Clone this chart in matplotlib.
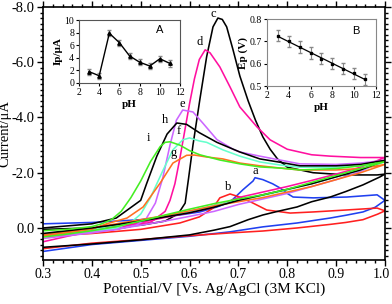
import numpy as np
import matplotlib
matplotlib.use("Agg")
import matplotlib.pyplot as plt
import matplotlib.transforms as mtransforms
from matplotlib.ticker import MultipleLocator, FormatStrFormatter

plt.rcParams['font.family'] = ['Liberation Serif', 'DejaVu Serif']
plt.rcParams['axes.unicode_minus'] = False

# cyclic voltammograms, potentials (V) and currents (uA), forward then reverse scan
a_fwd_E = [0.30, 0.40, 0.50, 0.58, 0.621, 0.656, 0.683, 0.709, 0.73, 0.734, 0.75, 0.77, 0.785, 0.80, 0.812, 0.853, 0.922, 0.984, 1.00]
a_fwd_I = [-0.15, -0.2, -0.3, -0.47, -0.58, -0.76, -0.94, -1.38, -1.7, -1.82, -1.75, -1.6, -1.45, -1.25, -1.12, -1.09, -1.12, -1.2, -1.0]
a_rev_E = [1.00, 0.98, 0.955, 0.92, 0.888, 0.85, 0.82, 0.75, 0.683, 0.6, 0.5, 0.4, 0.3]
a_rev_I = [-1.0, -0.75, -0.58, -0.46, -0.36, -0.26, -0.18, -0.04, 0.14, 0.3, 0.45, 0.6, 0.85]

b_fwd_E = [0.30, 0.40, 0.50, 0.58, 0.62, 0.648, 0.662, 0.683, 0.703, 0.73, 0.758, 0.806, 0.853, 0.92, 0.984, 1.00]
b_fwd_I = [0.3, 0.2, 0.05, -0.18, -0.4, -0.72, -1.09, -1.23, -1.12, -0.9, -0.65, -0.54, -0.58, -0.65, -0.72, -0.62]
b_rev_E = [1.00, 0.985, 0.955, 0.92, 0.888, 0.82, 0.75, 0.683, 0.6, 0.5, 0.4, 0.3]
b_rev_I = [-0.62, -0.5, -0.3, -0.2, -0.13, 0.0, 0.11, 0.18, 0.28, 0.42, 0.55, 0.75]

c_fwd_E = [0.30, 0.40, 0.50, 0.55, 0.57, 0.58, 0.591, 0.598, 0.607, 0.621, 0.635, 0.648, 0.658, 0.667, 0.676,
           0.689, 0.703, 0.72, 0.735, 0.75, 0.765, 0.78, 0.80, 0.853, 0.922, 0.984, 1.00]
c_fwd_I = [0.05, 0.0, -0.1, -0.25, -0.45, -0.6, -0.9, -1.8, -3.0, -4.64, -6.2, -7.28, -7.6, -7.55, -7.28,
           -6.45, -5.5, -4.6, -3.9, -3.3, -2.85, -2.5, -2.2, -2.0, -1.92, -1.92, -1.95]
c_rev_E = [1.00, 0.99, 0.955, 0.92, 0.888, 0.85, 0.82, 0.78, 0.75, 0.72, 0.683, 0.65, 0.6, 0.5, 0.4, 0.3]
c_rev_I = [-1.95, -1.85, -1.56, -1.32, -1.12, -0.95, -0.76, -0.6, -0.47, -0.3, -0.05, 0.08, 0.25, 0.43, 0.58, 0.7]

d_fwd_E = [0.30, 0.45, 0.52, 0.55, 0.56, 0.57, 0.58, 0.59, 0.60, 0.61, 0.62, 0.632, 0.642, 0.662, 0.683,
           0.703, 0.738, 0.765, 0.80, 0.85, 0.888, 0.95, 1.00]
d_fwd_I = [0.25, 0.0, -0.2, -0.6, -1.0, -1.6, -2.5, -3.5, -4.5, -5.4, -6.1, -6.45, -6.34, -5.83, -5.1,
           -4.38, -3.66, -3.19, -2.85, -2.65, -2.6, -2.55, -2.55]

e_fwd_E = [0.30, 0.45, 0.49, 0.51, 0.53, 0.545, 0.56, 0.573, 0.586, 0.607, 0.627, 0.656, 0.689, 0.703,
           0.744, 0.785, 0.826, 0.9, 0.95, 1.0]
e_fwd_I = [0.3, 0.05, -0.1, -0.3, -0.9, -1.8, -3.0, -3.9, -4.27, -4.2, -3.8, -3.2, -2.85, -2.75,
           -2.6, -2.46, -2.32, -2.3, -2.35, -2.45]

f_fwd_E = [0.30, 0.45, 0.48, 0.50, 0.52, 0.546, 0.566, 0.586, 0.60, 0.62, 0.635, 0.668, 0.703, 0.744,
           0.785, 0.826, 0.9, 0.95, 1.0]
f_fwd_I = [0.3, 0.0, -0.2, -0.5, -1.1, -2.1, -2.83, -3.19, -3.26, -3.15, -3.1, -2.83, -2.6, -2.39,
           -2.28, -2.2, -2.2, -2.25, -2.4]

g_fwd_E = [0.30, 0.40, 0.43, 0.472, 0.505, 0.54, 0.566, 0.594, 0.61, 0.635, 0.668, 0.703, 0.744, 0.785,
           0.826, 0.9, 0.95, 1.0]
g_fwd_I = [0.3, 0.05, -0.15, -0.36, -0.76, -1.63, -2.35, -2.63, -2.64, -2.57, -2.5, -2.35, -2.25, -2.17,
           -2.1, -2.1, -2.15, -2.3]

h_fwd_E = [0.30, 0.40, 0.45, 0.50, 0.512, 0.533, 0.554, 0.574, 0.594, 0.62, 0.656, 0.703, 0.744, 0.785,
           0.826, 0.9, 0.95, 1.0]
h_fwd_I = [0.0, -0.15, -0.36, -1.0, -1.6, -2.6, -3.4, -3.8, -3.75, -3.45, -3.1, -2.75, -2.5, -2.38,
           -2.25, -2.25, -2.3, -2.45]

i_fwd_E = [0.30, 0.35, 0.40, 0.42, 0.44, 0.46, 0.48, 0.50, 0.52, 0.54, 0.55, 0.56, 0.58, 0.60, 0.621,
           0.662, 0.703, 0.744, 0.785, 0.826, 0.9, 0.95, 1.0]
i_fwd_I = [0.1, 0.05, -0.05, -0.15, -0.3, -0.6, -1.1, -1.7, -2.4, -2.95, -3.1, -3.12, -3.0, -2.8, -2.65,
           -2.46, -2.32, -2.21, -2.17, -2.1, -2.15, -2.25, -2.4]

# reverse scans of d-i, read at the same potentials
rev_E = [1.0, 0.95, 0.9, 0.85, 0.8, 0.75, 0.7, 0.65, 0.6, 0.55, 0.5, 0.45, 0.4, 0.35, 0.3]
d_rev_I = [-2.55, -2.2, -1.95, -1.72, -1.5, -1.3, -1.1, -0.75, -0.55, -0.38, -0.2, -0.05, 0.12, 0.3, 0.5]
e_rev_I = [-2.45, -2.05, -1.75, -1.5, -1.25, -1.05, -0.85, -0.6, -0.42, -0.25, -0.1, 0.05, 0.18, 0.28, 0.38]
f_rev_I = [-2.4, -2.1, -1.85, -1.6, -1.38, -1.18, -1.0, -0.82, -0.6, -0.42, -0.25, -0.1, 0.05, 0.15, 0.28]
g_rev_I = [-2.3, -2.0, -1.75, -1.5, -1.3, -1.1, -0.95, -0.8, -0.62, -0.45, -0.3, -0.15, 0.0, 0.12, 0.25]
h_rev_I = [-2.45, -2.1, -1.85, -1.6, -1.4, -1.2, -1.0, -0.75, -0.55, -0.4, -0.25, -0.12, 0.0, 0.1, 0.2]
i_rev_I = [-2.4, -2.15, -1.9, -1.65, -1.4, -1.2, -1.05, -0.88, -0.68, -0.47, -0.25, -0.05, 0.1, 0.22, 0.33]

# inset A and B
pH = [3, 4, 5, 6, 7, 8, 9, 10, 11]
Ip = [1.8, 1.15, 7.9, 6.4, 4.3, 3.3, 2.7, 3.85, 3.1]
Ip_err = [0.5, 0.45, 0.5, 0.5, 0.5, 0.5, 0.45, 0.5, 0.55]
Ep = [0.725, 0.70, 0.675, 0.648, 0.623, 0.60, 0.577, 0.557, 0.53]
Ep_err = [0.025] * 9

curves = [
    ('a', '#2040f0', a_fwd_E, a_fwd_I, a_rev_E, a_rev_I, (0.735, -2.05)),
    ('b', '#ff2020', b_fwd_E, b_fwd_I, b_rev_E, b_rev_I, (0.679, -1.5)),
    ('c', 'black', c_fwd_E, c_fwd_I, c_rev_E, c_rev_I, (0.648, -7.75)),
    ('d', '#ff10a0', d_fwd_E, d_fwd_I, rev_E, d_rev_I, (0.621, -6.75)),
    ('e', '#cc66ff', e_fwd_E, e_fwd_I, rev_E, e_rev_I, (0.586, -4.5)),
    ('f', '#66ffcc', f_fwd_E, f_fwd_I, rev_E, f_rev_I, (0.578, -3.5)),
    ('g', '#ff7020', g_fwd_E, g_fwd_I, rev_E, g_rev_I, (0.568, -2.7)),
    ('h', 'black', h_fwd_E, h_fwd_I, rev_E, h_rev_I, (0.55, -3.9)),
    ('i', '#44ee22', i_fwd_E, i_fwd_I, rev_E, i_rev_I, (0.515, -3.25)),
]

fig = plt.figure(figsize=(3.92, 3.04), dpi=100)
ax = fig.add_axes([0.1097, 0.1447, 0.8723, 0.8323])

for name, col, fe, fi, re_, ri, lab in curves:
    ax.plot(list(fe) + list(re_), list(fi) + list(ri), color=col, lw=1.15)
    ax.text(lab[0], lab[1], name, fontsize=9, ha='center', va='center')

ax.set_xlim(0.3, 1.0)
ax.set_ylim(1.16, -8.0)
ax.xaxis.set_major_locator(MultipleLocator(0.1))
ax.xaxis.set_minor_locator(MultipleLocator(0.02))
ax.yaxis.set_major_locator(MultipleLocator(2.0))
ax.yaxis.set_minor_locator(MultipleLocator(0.2))
ax.xaxis.set_major_formatter(FormatStrFormatter('%.1f'))
ax.yaxis.set_major_formatter(FormatStrFormatter('%.1f'))
ax.tick_params(which='both', direction='out', top=True, right=True, width=1.0)
ax.tick_params(axis='x', labelsize=10)
ax.tick_params(axis='y', labelsize=10.5)
ax.tick_params(which='major', length=4, pad=2)
ax.tick_params(which='minor', length=2)
for s in ax.spines.values():
    s.set_linewidth(1.2)
ax.set_xlabel('Potential/V [Vs. Ag/AgCl (3M KCl)', fontsize=11, labelpad=1)
ax.set_ylabel('Current/\u03bcA', fontsize=10.5)
ax.yaxis.set_label_coords(-0.092, 0.5)

# keep the last x tick label inside the picture
fig.canvas.draw()
for lbl in ax.get_xticklabels():
    if lbl.get_text() == '1.0':
        lbl.set_transform(lbl.get_transform() + mtransforms.ScaledTranslation(-4 / 100, 0, fig.dpi_scale_trans))

# inset A
axA = fig.add_axes([0.2015, 0.727, 0.258, 0.207])
axA.errorbar(pH, Ip, yerr=Ip_err, color='black', ecolor='#888888', elinewidth=0.8, capsize=1.5,
             marker='^', ms=2.5, lw=1.0)
axA.set_xlim(2, 12)
axA.set_ylim(0, 10)
axA.set_xticks([2, 4, 6, 8, 10, 12])
axA.set_yticks([0, 2, 4, 6, 8, 10])
axA.tick_params(labelsize=7, length=2, pad=1.5)
axA.set_xlabel('pH', fontsize=8, fontweight='bold', labelpad=2)
axA.set_ylabel('Ip/\u03bcA', fontsize=8, fontweight='bold', labelpad=1)
axA.text(0.8, 0.85, 'A', transform=axA.transAxes, fontsize=8, family='Liberation Sans', ha='center', va='center')
for s in axA.spines.values():
    s.set_color('#555555')
    s.set_linewidth(0.8)

# inset B
axB = fig.add_axes([0.681, 0.717, 0.278, 0.220])
axB.errorbar(pH, Ep, yerr=Ep_err, color='black', ecolor='#888888', elinewidth=0.8, capsize=1.5,
             marker='s', ms=1.5, lw=0)
k, b0 = np.polyfit(pH, Ep, 1)
axB.plot([pH[0], pH[-1]], [k * pH[0] + b0, k * pH[-1] + b0], color='black', lw=0.9)
axB.set_xlim(2, 12)
axB.set_ylim(0.5, 0.8)
axB.set_xticks([2, 4, 6, 8, 10, 12])
axB.set_yticks([0.5, 0.6, 0.7, 0.8])
axB.yaxis.set_major_formatter(FormatStrFormatter('%.1f'))
axB.tick_params(labelsize=7, length=2, pad=1.5)
axB.set_xlabel('pH', fontsize=8, fontweight='bold', labelpad=2)
axB.set_ylabel('Ep (V)', fontsize=8, fontweight='bold', labelpad=1)
axB.text(0.82, 0.82, 'B', transform=axB.transAxes, fontsize=8, family='Liberation Sans', ha='center', va='center')
for s in axB.spines.values():
    s.set_color('#888888')
    s.set_linewidth(0.8)

fig.savefig('out.png', dpi=100)
